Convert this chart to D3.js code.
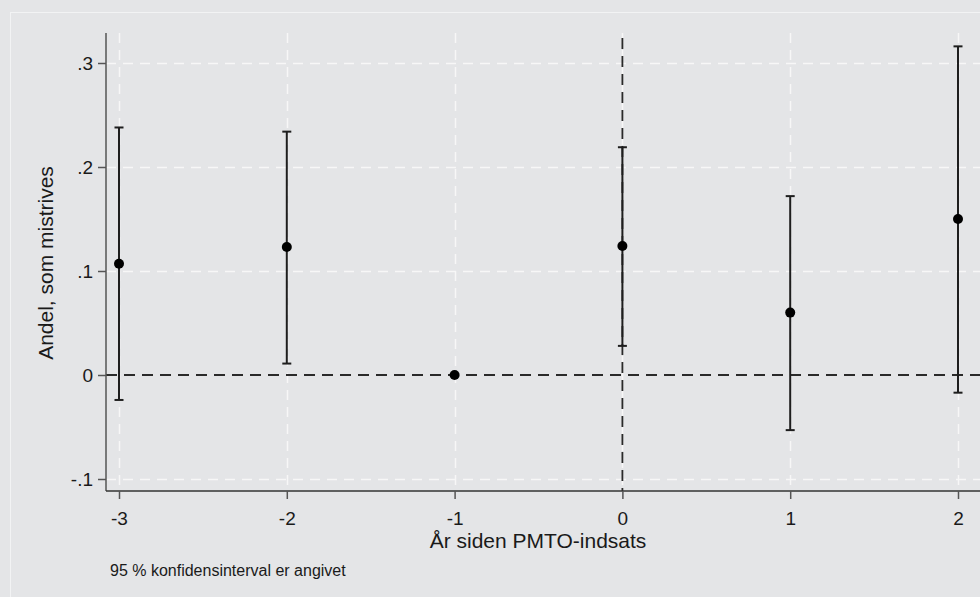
<!DOCTYPE html>
<html>
<head>
<meta charset="utf-8">
<script src="https://cdn.jsdelivr.net/npm/d3@7"></script>
<style>
  html, body { margin: 0; padding: 0; background: #e4e5e7; }
  svg { display: block; font-family: "Liberation Sans", Arial, sans-serif; }
</style>
</head>
<body>
<svg id="chart" width="980" height="597"></svg>
<script>
// Event-study estimates: years relative to PMTO start
const years     = [-3, -2, -1, 0, 1, 2];
const estimates = [0.107, 0.123, 0.000, 0.124, 0.060, 0.150];
const ciLower   = [-0.024, 0.011, 0.000, 0.028, -0.053, -0.017];
const ciUpper   = [0.238, 0.234, 0.000, 0.219, 0.172, 0.316];
const xTicks    = [-3, -2, -1, 0, 1, 2];
const xTickLabels = ["-3", "-2", "-1", "0", "1", "2"];
const yTicks    = [-0.1, 0, 0.1, 0.2, 0.3];
const yTickLabels = ["-.1", "0", ".1", ".2", ".3"];

(function () {
const svg = d3.select("#chart");
const W = 980, H = 597;

// outer graph-region border
svg.append("rect")
  .attr("x", 10.5).attr("y", 12.5)
  .attr("width", W).attr("height", H)
  .attr("fill", "none").attr("stroke", "#f2f3f4").attr("stroke-width", 1);

const x = d3.scaleLinear().domain([-3, 2]).range([119, 958]);
const y = d3.scaleLinear().domain([0, 0.3]).range([375, 63]);

const pLeft = 106, pBottom = 491, pTop = 33, pRight = 985;

// white dashed gridlines
const grid = svg.append("g").attr("stroke", "#f7f7f7").attr("stroke-width", 1.5)
  .attr("stroke-dasharray", "10,7").attr("fill", "none");
grid.selectAll(".gy").data(yTicks.filter(d => d !== 0)).join("line")
  .attr("x1", pLeft).attr("x2", pRight)
  .attr("y1", d => Math.round(y(d)) + 0.5).attr("y2", d => Math.round(y(d)) + 0.5);
grid.selectAll(".gx").data(xTicks).join("line")
  .attr("y1", pTop).attr("y2", pBottom)
  .attr("x1", d => Math.round(x(d)) + 0.5).attr("x2", d => Math.round(x(d)) + 0.5);

// reference lines at 0
svg.append("line")
  .attr("x1", pLeft).attr("x2", pRight)
  .attr("y1", y(0)).attr("y2", y(0))
  .attr("stroke", "#2a2a2a").attr("stroke-width", 1.8).attr("stroke-dasharray", "11,7");
svg.append("line")
  .attr("x1", x(0)).attr("x2", x(0))
  .attr("y1", 38).attr("y2", pBottom)
  .attr("stroke", "#2a2a2a").attr("stroke-width", 1.8).attr("stroke-dasharray", "11,7");

// axes
const yAxis = d3.axisLeft(y).tickValues(yTicks).tickSize(8).tickPadding(5)
  .tickFormat((d, i) => yTickLabels[i]);
const gy = svg.append("g").attr("transform", `translate(${pLeft},0)`).call(yAxis);
gy.select(".domain").attr("d", `M0,${pTop}V${pBottom}`).attr("stroke", "#555").attr("stroke-width", 1.5);

const xAxis = d3.axisBottom(x).tickValues(xTicks).tickSize(8).tickPadding(13)
  .tickFormat((d, i) => xTickLabels[i]);
const gx = svg.append("g").attr("transform", `translate(0,${pBottom})`).call(xAxis);
gx.select(".domain").attr("d", `M${pLeft},0H${pRight}`).attr("stroke", "#333").attr("stroke-width", 1.5);

[gx, gy].forEach(g => {
  g.selectAll(".tick line").attr("stroke", "#555").attr("stroke-width", 1.5);
  g.selectAll(".tick text").attr("fill", "#1a1a1a").style("font-size", "19px")
    .style("font-family", "'Liberation Sans', Arial, sans-serif");
});

// confidence intervals
const idx = d3.range(years.length);
const withCI = idx.filter(i => ciUpper[i] !== ciLower[i]);
const ci = svg.append("g").attr("stroke", "#1e1e1e").attr("stroke-width", 2);
ci.selectAll(".bar").data(withCI).join("line")
  .attr("x1", i => x(years[i])).attr("x2", i => x(years[i]))
  .attr("y1", i => y(ciUpper[i])).attr("y2", i => y(ciLower[i]));
ci.selectAll(".capT").data(withCI).join("line")
  .attr("x1", i => x(years[i]) - 4.5).attr("x2", i => x(years[i]) + 4.5)
  .attr("y1", i => y(ciUpper[i])).attr("y2", i => y(ciUpper[i]));
ci.selectAll(".capB").data(withCI).join("line")
  .attr("x1", i => x(years[i]) - 4.5).attr("x2", i => x(years[i]) + 4.5)
  .attr("y1", i => y(ciLower[i])).attr("y2", i => y(ciLower[i]));

// point estimates
svg.append("g").selectAll("circle").data(idx).join("circle")
  .attr("cx", i => x(years[i])).attr("cy", i => y(estimates[i]))
  .attr("r", 5).attr("fill", "#000");

// titles
svg.append("text")
  .attr("x", 538).attr("y", 548)
  .attr("text-anchor", "middle").attr("fill", "#1a1a1a").style("font-size", "21px")
  .text("År siden PMTO-indsats");
svg.append("text")
  .attr("transform", `translate(53,263) rotate(-90)`)
  .attr("text-anchor", "middle").attr("fill", "#1a1a1a").style("font-size", "21px")
  .text("Andel, som mistrives");
svg.append("text")
  .attr("x", 110).attr("y", 576)
  .attr("fill", "#1a1a1a").style("font-size", "16px")
  .text("95 % konfidensinterval er angivet");
})();
</script>
</body>
</html>
